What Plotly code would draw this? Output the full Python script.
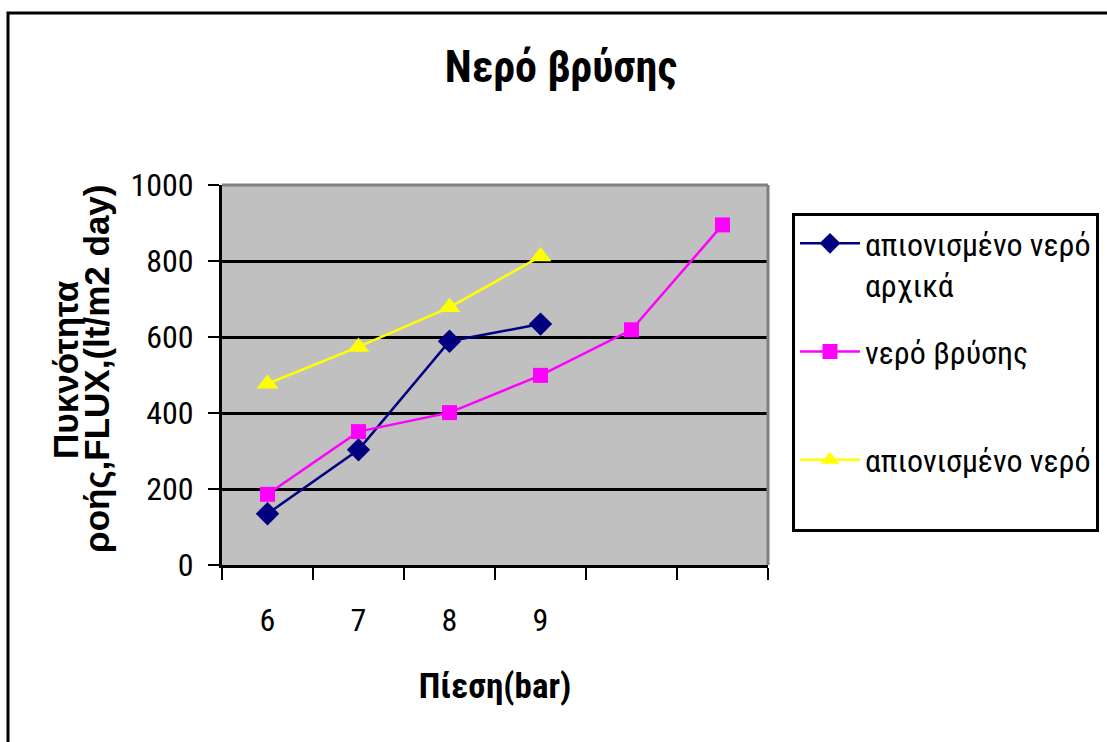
import plotly.graph_objects as go

# Pressure categories (the last two slots carry no label)
pressure_labels = ["6", "7", "8", "9", "", ""]
positions = list(range(len(pressure_labels)))

# Flux values, lt/m2 day
deionized_initial = [135, 303, 589, 634]
tap_water = [186, 351, 401, 499, 619, 895]
deionized = [477, 574, 678, 812]

# Legend entries are padded to two rows each so they are evenly spaced
series_names = ["απιονισμένο νερό<br>αρχικά", "νερό βρύσης<br> ", "απιονισμένο νερό<br> "]
y_title_lines = ["Πυκνότητα", "ροής,FLUX,(lt/m2 day)"]

NARROW = "Roboto Condensed, DejaVu Sans Condensed, sans-serif"
WIDE = "Liberation Sans, Arial, sans-serif"

# plot area in pixels: x 222..768, y 185..565
L, R, T, B = 222, 768, 185, 565
W, H = 1107, 742


def px_x(p):
    return (p - L) / (R - L)


def px_y(p):
    return (B - p) / (B - T)


fig = go.Figure()
fig.add_trace(go.Scatter(
    x=positions[:len(deionized_initial)], y=deionized_initial, name=series_names[0],
    mode="lines+markers", legendgroup="a",
    line=dict(color="#000080", width=2.5),
    marker=dict(symbol="diamond", size=18, color="#000080"),
))
fig.add_trace(go.Scatter(
    x=positions[:len(tap_water)], y=tap_water, name=series_names[1],
    mode="lines+markers", legendgroup="b",
    line=dict(color="#FF00FF", width=2.5),
    marker=dict(symbol="square", size=15, color="#FF00FF"),
))
fig.add_trace(go.Scatter(
    x=positions[:len(deionized)], y=deionized, name=series_names[2],
    mode="lines+markers", legendgroup="c",
    line=dict(color="#FFFF00", width=2.5),
    marker=dict(symbol="triangle-up", size=19, color="#FFFF00"),
))

# Plot-area frame (top and right in grey) and outer chart frame
frame = [
    dict(type="line", xref="paper", yref="paper", x0=0, x1=1, y0=1, y1=1,
         line=dict(color="#808080", width=3), layer="above"),
    dict(type="line", xref="paper", yref="paper", x0=1, x1=1, y0=0, y1=1,
         line=dict(color="#808080", width=3), layer="above"),
    dict(type="rect", xref="paper", yref="paper",
         x0=px_x(8), x1=px_x(1115), y0=px_y(752), y1=px_y(13),
         line=dict(color="black", width=3), layer="above"),
]

# Two-row rotated y-axis title
y_title = [
    dict(text=f"<b>{y_title_lines[0]}</b>", x=px_x(65), y=px_y(370)),
    dict(text=f"<b>{y_title_lines[1]}</b>", x=px_x(96), y=px_y(369)),
]
annotations = [
    dict(text=a["text"], x=a["x"], y=a["y"], xref="paper", yref="paper",
         xanchor="center", yanchor="middle", textangle=-90, showarrow=False,
         font=dict(family=WIDE, size=35, color="black"))
    for a in y_title
]

fig.update_layout(
    width=W, height=H,
    margin=dict(l=L, r=W - R, t=T, b=H - B, autoexpand=False),
    paper_bgcolor="white",
    plot_bgcolor="#C0C0C0",
    title=dict(text="<b>Νερό βρύσης</b>", x=561 / W, xref="container",
               y=1 - 67 / H, yref="container", xanchor="center", yanchor="middle",
               font=dict(family=NARROW, size=44, color="black")),
    xaxis=dict(
        range=[-0.5, 5.5], tickvals=positions, ticktext=pressure_labels,
        ticks="", showgrid=False, zeroline=False,
        showline=True, linecolor="black", linewidth=3,
        ticklabelstandoff=25,
        tickfont=dict(family=NARROW, size=32, color="black"),
        minor=dict(tick0=-0.5, dtick=1, ticks="outside", ticklen=12,
                   tickwidth=2, tickcolor="black", showgrid=False),
        title=dict(text="<b>Πίεση(bar)</b>", standoff=36,
                   font=dict(family=NARROW, size=35, color="black")),
    ),
    yaxis=dict(
        range=[0, 1000], dtick=200, ticks="outside", ticklen=11,
        tickwidth=2, tickcolor="black",
        showgrid=True, gridcolor="black", gridwidth=3,
        zeroline=False, showline=True, linecolor="black", linewidth=3,
        ticklabelstandoff=8,
        tickfont=dict(family=NARROW, size=32, color="black"),
    ),
    legend=dict(
        x=px_x(792), xanchor="left", y=px_y(213), yanchor="top",
        bordercolor="black", borderwidth=3, bgcolor="white",
        font=dict(family=NARROW, size=32, color="black"),
        traceorder="grouped", tracegroupgap=22, valign="top",
        itemwidth=60,
    ),
    shapes=frame,
    annotations=annotations,
)

fig.write_html("out.html")
